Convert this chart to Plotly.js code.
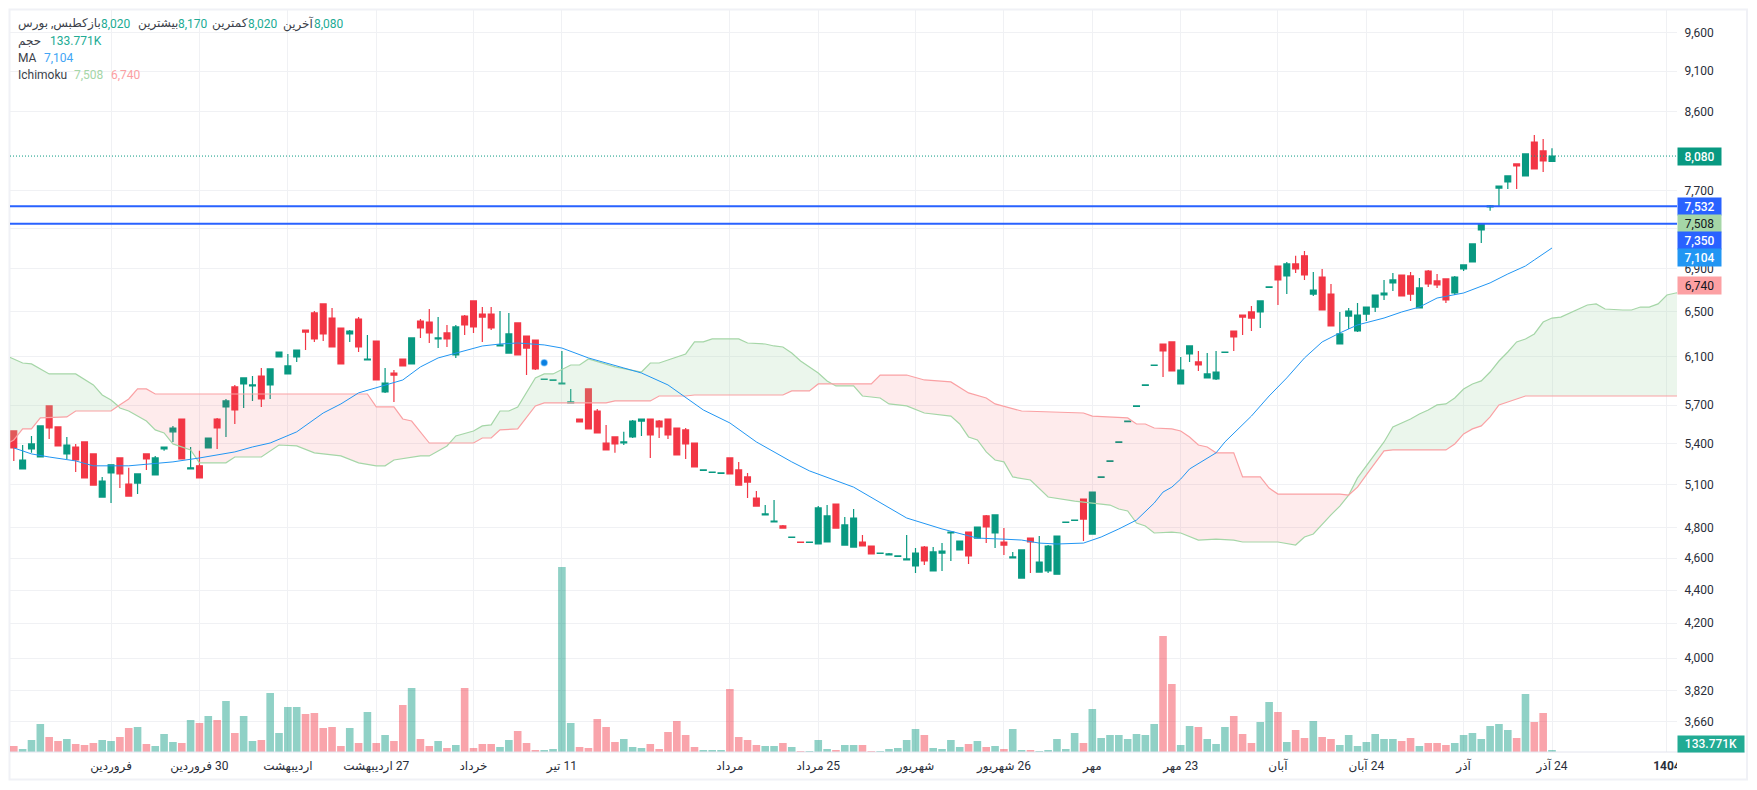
<!DOCTYPE html>
<html><head><meta charset="utf-8">
<script src="https://cdn.plot.ly/plotly-3.0.1.min.js"></script>
<style>html,body{margin:0;padding:0;background:#fff}#c{width:1757px;height:790px}</style>
</head><body><div id="c"></div>
<script>
const open=[5498,5213,5361,5301,5694,5529,5324,5376,5414,5324,
5012,5184,5294,5104,5111,5324,5170,5361,5491,5591,
5213,5236,5369,5591,5686,5848,5872,5856,5938,5864,
6098,5955,6098,6333,6486,6569,6440,6351,6298,6431,
6073,6236,5807,5963,6081,6039,6413,6404,6254,6307,
6115,6458,6596,6476,6476,6193,6132,6396,6280,6245,
5910,5902,5872,5718,5591,5831,5654,5406,5452,5406,
5452,5575,5591,5575,5591,5521,5506,5406,5203,5188,
5181,5294,5206,5155,5005,4888,4840,4813,4736,4706,
4703,4693,4706,4963,4686,4673,4706,4680,4631,4622,
4612,4589,4551,4673,4519,4634,4766,4654,4772,4732,
4881,4766,4706,4602,4474,4732,4512,4519,4499,4837,
4850,4998,4759,5152,5268,5410,5571,5690,5860,6026,
6210,6228,5872,6124,6056,5922,5913,6137,6324,6467,
6495,6495,6723,6927,6831,6947,7026,6660,6821,6660,
6210,6458,6324,6476,6540,6651,6765,6840,6831,6531,
6878,6784,6803,6670,6898,6966,7285,7524,7726,7792,
7991,7858,8240,8138,8020];
const high=[5498,5391,5460,5537,5694,5529,5452,5399,5414,5324,
5155,5243,5294,5221,5177,5324,5309,5376,5537,5591,
5376,5347,5444,5599,5750,5864,5922,5938,6005,5997,
6141,6124,6158,6333,6504,6569,6531,6351,6333,6449,
6289,6236,6005,5988,6081,6263,6431,6522,6449,6378,
6378,6467,6596,6540,6540,6504,6486,6396,6280,6245,
5913,5905,6150,5831,5591,5831,5670,5545,5452,5491,
5583,5591,5591,5583,5591,5521,5521,5406,5206,5191,
5184,5294,5265,5184,5054,4956,4991,4820,4739,4706,
4706,4949,4956,4963,4874,4929,4752,4680,4634,4634,
4615,4752,4667,4680,4673,4699,4772,4712,4772,4806,
4888,4888,4799,4641,4654,4732,4746,4686,4746,4840,
4853,4998,5047,5155,5272,5414,5575,5694,5864,6030,
6210,6228,6098,6193,6150,6132,6150,6141,6324,6467,
6550,6596,6727,6927,6966,7026,7074,6869,6898,6755,
6495,6531,6577,6540,6651,6793,6859,6840,6869,6812,
6888,6850,6803,6831,6937,7144,7347,7545,7748,7858,
7991,8104,8322,8275,8170];
const low=[5272,5213,5332,5301,5437,5384,5287,5191,5148,5097,
5012,4970,5075,5019,5033,5206,5170,5347,5414,5287,
5213,5148,5369,5361,5452,5552,5678,5734,5686,5750,
6098,5955,6056,6158,6228,6236,6184,6039,6228,6141,
6073,5905,5799,5726,6022,6039,6263,6219,6175,6184,
6090,6289,6307,6228,6333,6193,6132,6115,5946,5988,
5910,5902,5872,5718,5568,5514,5483,5354,5332,5391,
5444,5460,5294,5444,5437,5317,5287,5228,5203,5188,
5181,5177,5097,5005,4949,4888,4840,4799,4736,4703,
4703,4693,4706,4799,4686,4673,4680,4628,4631,4622,
4612,4589,4506,4557,4519,4519,4583,4654,4564,4732,
4699,4667,4622,4602,4474,4506,4512,4506,4499,4837,
4850,4712,4759,5152,5268,5410,5571,5690,5860,6026,
5930,5980,5872,6056,5980,5922,5905,6137,6150,6289,
6324,6351,6723,6559,6660,6859,6793,6642,6513,6369,
6210,6342,6315,6413,6495,6605,6689,6642,6596,6531,
6727,6717,6577,6651,6878,6966,7154,7483,7535,7716,
7716,7858,7935,7902,8020];
const close=[5369,5279,5399,5537,5521,5384,5391,5279,5148,5097,
5126,5243,5177,5019,5177,5287,5294,5376,5521,5287,
5221,5148,5444,5521,5734,5662,5922,5864,5750,5997,
6141,6022,6158,6315,6254,6298,6184,6039,6324,6184,
6081,5905,5880,5946,6022,6263,6351,6307,6263,6254,
6360,6378,6360,6449,6351,6202,6298,6115,6175,5997,
5913,5905,5880,5726,5568,5514,5483,5354,5399,5414,
5575,5591,5467,5529,5467,5317,5399,5228,5206,5191,
5184,5177,5097,5118,4949,4895,4846,4799,4739,4703,
4706,4936,4881,4799,4820,4867,4680,4628,4634,4628,
4615,4596,4634,4583,4641,4647,4772,4712,4615,4806,
4806,4888,4686,4609,4654,4706,4576,4680,4746,4840,
4853,4860,5047,5155,5272,5414,5575,5694,5864,6030,
6150,5980,5988,6193,6030,5955,5971,6141,6272,6449,
6440,6596,6727,6793,6947,6898,6840,6698,6513,6369,
6298,6504,6467,6540,6651,6670,6793,6642,6660,6717,
6755,6746,6605,6821,6937,7144,7347,7535,7748,7858,
7969,8104,7935,8025,8080];
// volume in thousands
const volume=[401,201,803,1873,1004,736,870,535,468,602,
803,736,1004,1606,1673,535,401,1204,669,602,
2141,1940,2408,2141,3412,1271,2408,736,803,3947,
1271,3011,3011,2542,2609,1606,1673,401,1606,602,
2676,602,1137,736,3144,4282,870,401,736,268,
468,4282,268,535,535,335,803,1405,602,134,
134,201,12377,1940,335,268,2208,1673,669,870,
335,268,535,201,1338,2074,1137,335,134,134,
134,4215,1004,803,468,401,401,602,335,67,
67,803,201,134,468,468,468,67,67,201,
268,803,1539,1137,268,201,803,335,535,736,
335,401,201,1539,134,134,67,134,870,201,
1271,602,2877,937,1137,1137,870,1204,1137,1873,
7760,4549,468,1739,1673,870,535,1673,2408,1204,
602,2007,3345,2676,669,1472,937,2074,1004,870,
468,1137,401,669,1204,870,870,736,937,401,
602,602,468,602,1137,1271,870,1739,1873,1472,
937,3880,2007,2609,134];
const maX=[0,2,4,7,9,13,18,21,25,27,29,32,35,37,39,44,46,48,53,55,57,60,62,65,69,71,74,78,81,84,88,90,95,99,101,105,109,112,114,116,118,121,123,125,127,129,130,131,132,133,136,137,140,142,144,146,148,150,152,155,157,159,161,164,167,169,171,172,174];
const maY=[5369,5324,5301,5272,5236,5236,5265,5294,5339,5376,5406,5491,5638,5710,5799,5905,6014,6090,6193,6210,6219,6202,6175,6090,6005,5963,5864,5662,5560,5414,5265,5199,5082,4936,4867,4793,4732,4725,4719,4699,4693,4699,4739,4793,4853,4970,5047,5082,5140,5213,5332,5414,5614,5774,5922,6090,6228,6307,6378,6440,6495,6540,6623,6670,6765,6850,6927,6986,7104];
const spanAX=[-1,1,2,4,7,9,10,11,11.8,12,13,15,16,17,18,20,21,24,25,28,30,32,34,37,39,41,42,43,46,47,49,49.3,50,52,53,54,55,56,57,59,60,61,63,64,65,68,71,72,73,76,77,78,79,82,83,85,86,87,88,89,91,92,92.6,93,95,96,98,99,101,103,106,107,108,109,110,111,112,113,115,116,117,120,121,124,125,126,127,128,129,131,132,134,136,138,139,143,145,146,147,148,149,150,151,152,153,154,155,156,157,158,159,160,161,162,163,164,165,166,167,168,169,170,171,172,173,174,175,176,177,178,179,180,182,183,184,185,186,187,188,189];
const spanA=[6115,6047,6039,5955,5955,5864,5782,5742,5694,5678,5654,5575,5506,5483,5399,5354,5258,5258,5301,5301,5391,5384,5332,5309,5258,5236,5236,5279,5309,5309,5384,5406,5460,5498,5537,5545,5654,5654,5686,5922,5955,5955,6030,6030,6081,6014,5971,6047,6047,6124,6228,6228,6254,6254,6219,6210,6193,6184,6132,6064,5963,5897,5872,5856,5856,5774,5758,5710,5694,5638,5614,5552,5452,5429,5339,5279,5265,5155,5133,5075,5012,4984,4977,4956,4929,4915,4833,4813,4766,4772,4766,4719,4725,4719,4706,4706,4686,4739,4759,4826,4888,4949,5026,5148,5236,5332,5414,5529,5560,5591,5630,5662,5702,5710,5758,5831,5872,5897,5971,6064,6141,6228,6254,6298,6404,6440,6449,6486,6522,6559,6569,6522,6513,6513,6540,6540,6569,6651,6670,6680];
const spanBX=[-1,0,1,2,3,6,7,11,11.8,13,14,15,16,40,41,43,44,45,47,49.3,52,53,54,55,57,59,60,67,68,72,73,76,77,87,88,90,91,92.6,97,98,101,103,106,108,110,111,114,121,122,126,127,128,129,131,132,133,134,135,136,138,139,141,142,143,150,151,152,153,155,156,162,163,164,165,166,167,168,169,171,189];
const spanB=[5391,5429,5514,5514,5599,5607,5654,5654,5694,5750,5831,5831,5790,5790,5686,5686,5591,5575,5406,5406,5406,5444,5444,5506,5514,5694,5718,5718,5734,5734,5774,5774,5782,5782,5815,5815,5872,5872,5872,5946,5946,5905,5889,5799,5758,5710,5654,5638,5614,5599,5552,5552,5521,5514,5498,5452,5391,5376,5332,5332,5155,5155,5075,5033,5033,5026,5082,5170,5347,5354,5354,5399,5475,5514,5537,5607,5702,5726,5774,5774];
// where the two cloud lines cross, with the colour of the part before each
const cloudBreaks=[-1,11.8,49.3,92.6,151,189];
const cloudUp=[true,false,true,false,true];
const priceTicks=[9600,9100,8600,7700,7300,6900,6500,6100,5700,5400,5100,4800,4600,4400,4200,4000,3820,3660];
const priceTickText=['9,600','9,100','8,600','7,700','','6,900','6,500','6,100','5,700','5,400','5,100','4,800','4,600','4,400','4,200','4,000','3,820','3,660'];
const timeTicks=[11,21,31,41,52,62,81,91,102,112,122,132,143,153,164,174,187];
const timeTickText=['فروردین','\u200F30 فروردین','اردیبهشت','\u200F27 اردیبهشت','خرداد','\u200F11 تیر','مرداد','\u200F25 مرداد','شهریور','\u200F26 شهریور','مهر','\u200F23 مهر','آبان','\u200F24 آبان','آذر','\u200F24 آذر','<b>1404</b>'];
const levelLines=[7532,7350];
const lastPrice=8080;
const dotBar=[60], dotPrice=[6050];
const barIndex=open.map((_,i)=>i);

const FONT='Roboto, "Noto Sans", "DejaVu Sans", sans-serif';
const W=1757,H=790,L=10,R=1677,T=10,B=752;
const px=x=>(x-L)/(R-L), py=y=>(B-y)/(B-T);
const GREEN='#089981',RED='#F23645';

function seg(xs,ys,a,b){const o=[];xs.forEach((x,i)=>{if(x>=a&&x<=b)o.push([x,ys[i]])});return o}
const fills=cloudUp.map((up,k)=>{
  const a=seg(spanAX,spanA,cloudBreaks[k],cloudBreaks[k+1]);
  const b=seg(spanBX,spanB,cloudBreaks[k],cloudBreaks[k+1]).reverse();
  const pts=a.concat(b);
  return {type:'scatter',mode:'none',x:pts.map(p=>p[0]),y:pts.map(p=>p[1]),fill:'toself',
    fillcolor:up?'rgba(165,214,167,0.22)':'rgba(242,54,69,0.1)',hoverinfo:'skip'};
});
const traces=[
 {type:'bar',x:barIndex,y:volume,yaxis:'y2',width:0.86,
  marker:{color:barIndex.map(i=>close[i]>open[i]?'rgba(8,153,129,0.45)':'rgba(242,54,69,0.45)'),line:{width:0}},hoverinfo:'skip'},
 ...fills,
 {type:'scatter',mode:'lines',x:spanAX,y:spanA,line:{color:'#A5D6A7',width:1.2},hoverinfo:'skip'},
 {type:'scatter',mode:'lines',x:spanBX,y:spanB,line:{color:'#FAA1A4',width:1.2},hoverinfo:'skip'},
 {type:'scatter',mode:'lines',x:maX,y:maY,line:{color:'#2196F3',width:1},hoverinfo:'skip'},
 {type:'candlestick',x:barIndex,open,high,low,close,whiskerwidth:0,
  increasing:{line:{color:GREEN,width:1.2},fillcolor:GREEN},
  decreasing:{line:{color:RED,width:1.2},fillcolor:RED},hoverinfo:'skip'},
 {type:'scatter',mode:'markers',x:dotBar,y:dotPrice,marker:{size:6,color:'#0a7fe0',line:{color:'rgba(33,150,243,0.45)',width:1.5}},hoverinfo:'skip'}
];
const ann=[];
function txt(x,y,text,color,anchor,size){
  const a=anchor||'left';
  ann.push({xref:'paper',yref:'paper',x:px(a==='left'?x-1:x),y:py(y),xanchor:a,yanchor:'middle',text,showarrow:false,
    font:{family:FONT,size:size||12,color},borderpad:0});
}
const INK='#3b3f4a',VAL='#22AB94';
txt(18,24,'کطبس, بورس',INK);
txt(102,24,'باز',INK,'right'); txt(101,24,'8,020',VAL);
txt(179,24,'بیشترین',INK,'right'); txt(178,24,'8,170',VAL);
txt(249,24,'کمترین',INK,'right'); txt(248,24,'8,020',VAL);
txt(315,24,'آخرین',INK,'right'); txt(314,24,'8,080',VAL);
txt(18,41,'حجم',INK); txt(50,41,'133.771K',VAL);
txt(18,58,'MA',INK); txt(44,58,'7,104','#42A5F5');
txt(18,75,'Ichimoku',INK); txt(74,75,'7,508','#A5D6A7'); txt(111,75,'6,740','#FCA0A3');
function tag(y0,y1,text,bg,color,x1,weight){
  ann.push({xref:'paper',yref:'paper',x:px(R),y:py((y0+y1)/2),xanchor:'left',yanchor:'middle',text,showarrow:false,
    width:(x1||1720)-R,height:y1-y0,bgcolor:bg,borderpad:0,align:'center',valign:'middle',
    font:{family:FONT,size:12,color,weight:weight||500}});
}
tag(148,165,'8,080',GREEN,'#fff');
tag(198,215,'7,532','#2962FF','#fff');
tag(215,232,'7,508','#A5D6A7','#131722',0,400);
tag(232,249,'7,350','#2962FF','#fff');
tag(249,266,'7,104','#2196F3','#fff');
tag(277,294,'6,740','#FCA0A3','#131722',0,400);
tag(736,752,'133.771K','#22AB94','#fff',1743);

const shapes=[
 {type:'rect',xref:'paper',yref:'paper',x0:px(R),x1:px(1745),y0:py(776),y1:py(754),fillcolor:'#fff',line:{width:0},layer:'above'},
 {type:'rect',xref:'paper',yref:'paper',x0:px(9.5),x1:px(1747),y0:py(779.5),y1:py(9.5),line:{color:'#f0f1f6',width:2},layer:'below'},
 {type:'line',xref:'paper',yref:'paper',x0:0,x1:px(1745),y0:0,y1:0,line:{color:'#e3e4ee',width:1},layer:'above'},
 {type:'line',xref:'paper',yref:'y',x0:0,x1:1,y0:lastPrice,y1:lastPrice,line:{color:GREEN,width:1,dash:'1px,2px'},layer:'above'},
 ...levelLines.map(v=>({type:'line',xref:'paper',yref:'y',x0:0,x1:1,y0:v,y1:v,line:{color:'#2962FF',width:2},layer:'above'}))
];
const layout={width:W,height:H,margin:{l:L,r:W-R,t:T,b:H-B,pad:0},paper_bgcolor:'#fff',plot_bgcolor:'#fff',
 showlegend:false,hovermode:false,boxgap:0.34,boxgroupgap:0,dragmode:false,font:{family:FONT,size:12,color:'#131722'},
 xaxis:{type:'linear',range:[-0.43,188.14],tickvals:timeTicks,ticktext:timeTickText,tickangle:0,showgrid:true,gridcolor:'#f0f1f4',gridwidth:1,
   zeroline:false,showline:false,ticks:'outside',ticklen:3,tickcolor:'rgba(0,0,0,0)',tickfont:{family:FONT,size:12,color:'#2a2e39'},rangeslider:{visible:false}},
 yaxis:{type:'log',side:'right',range:[Math.log10(3507),Math.log10(9914)],tickmode:'array',tickvals:priceTicks,ticktext:priceTickText,showgrid:true,gridcolor:'#f0f1f4',gridwidth:1,
   zeroline:false,showline:false,ticks:'outside',ticklen:4,tickcolor:'rgba(0,0,0,0)',tickfont:{family:FONT,size:12,color:'#2a2e39'}},
 yaxis2:{overlaying:'y',side:'left',range:[0,49640],visible:false,showgrid:false,zeroline:false},
 annotations:ann,shapes};
Plotly.newPlot('c',traces,layout,{staticPlot:true,displayModeBar:false});
</script></body></html>
